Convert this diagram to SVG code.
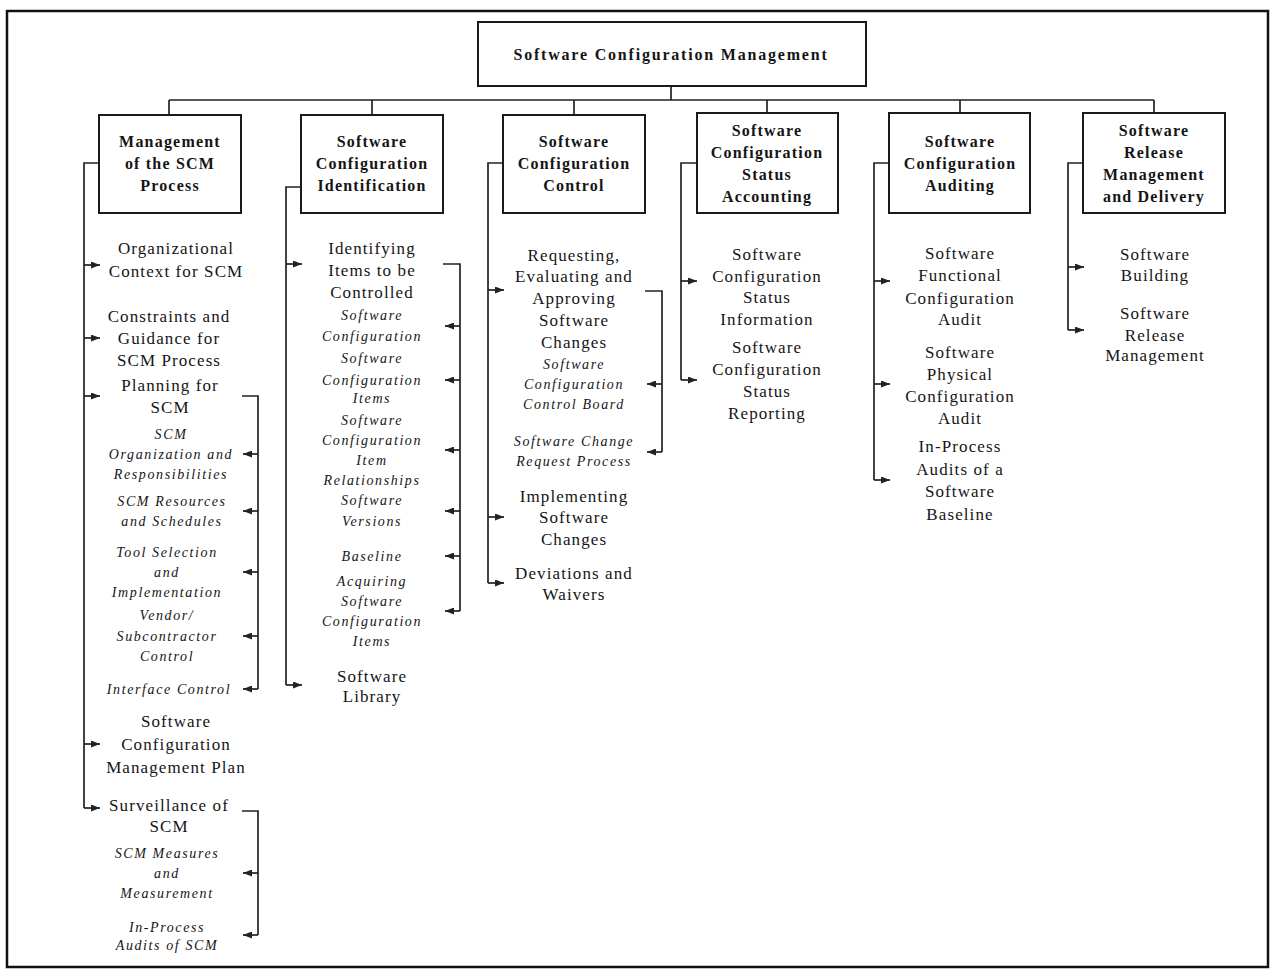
<svg xmlns="http://www.w3.org/2000/svg" width="1274" height="970" viewBox="0 0 1274 970">
<style>
.frame{fill:none;stroke:#111;stroke-width:2.5}
.box{fill:#fff;stroke:#1a1a1a;stroke-width:2}
.ln{fill:none;stroke:#222;stroke-width:1.7}
.ar{fill:none;stroke:#222;stroke-width:1.7;marker-end:url(#ah)}
text{font-family:"Liberation Serif","Times New Roman",serif;fill:#151515;text-anchor:middle}
.h{font-size:16px;font-weight:bold;letter-spacing:1.2px}
.ttl{letter-spacing:1.8px}
.t{font-size:17px;letter-spacing:1.1px}
.i{font-size:14px;font-style:italic;letter-spacing:1.6px}
</style>
<defs>
<marker id="ah" viewBox="0 0 9 7" refX="9" refY="3.5" markerWidth="9" markerHeight="7" markerUnits="userSpaceOnUse" orient="auto">
<path d="M0,0 L9,3.5 L0,7 z" fill="#222"/>
</marker>
</defs>
<rect class="frame" x="7" y="11" width="1261" height="956"/>

<g id="connectors">
<path class="ln" d="M671,86 V100 M169,100 H1154 M169,100 V115 M372,100 V115 M574,100 V115 M767,100 V113 M960,100 V113 M1154,100 V113"/>
<path class="ln" d="M99,163 H84 V808"/>
<path class="ar" d="M84,265 H100"/><path class="ar" d="M84,338 H100"/><path class="ar" d="M84,396 H100"/><path class="ar" d="M84,744 H100"/><path class="ar" d="M84,808 H100"/>
<path class="ln" d="M242,396 H258 V689"/>
<path class="ar" d="M258,454 H243"/><path class="ar" d="M258,511 H243"/><path class="ar" d="M258,572 H243"/><path class="ar" d="M258,636 H243"/><path class="ar" d="M258,689 H243"/>
<path class="ln" d="M242,811 H258 V935"/>
<path class="ar" d="M258,873 H243"/><path class="ar" d="M258,935 H243"/>

<path class="ln" d="M301,187 H286 V685"/>
<path class="ar" d="M286,264 H302"/><path class="ar" d="M286,685 H302"/>
<path class="ln" d="M443,264 H460 V611"/>
<path class="ar" d="M460,326 H445"/><path class="ar" d="M460,380 H445"/><path class="ar" d="M460,450 H445"/><path class="ar" d="M460,511 H445"/><path class="ar" d="M460,556 H445"/><path class="ar" d="M460,611 H445"/>

<path class="ln" d="M503,163 H488 V583"/>
<path class="ar" d="M488,290 H504"/><path class="ar" d="M488,517 H504"/><path class="ar" d="M488,583 H504"/>
<path class="ln" d="M645,291 H662 V452"/>
<path class="ar" d="M662,384 H647"/><path class="ar" d="M662,452 H647"/>

<path class="ln" d="M697,163 H681 V380"/>
<path class="ar" d="M681,281 H697"/><path class="ar" d="M681,380 H697"/>

<path class="ln" d="M889,163 H874 V480"/>
<path class="ar" d="M874,281 H890"/><path class="ar" d="M874,384 H890"/><path class="ar" d="M874,480 H890"/>

<path class="ln" d="M1083,163 H1068 V330"/>
<path class="ar" d="M1068,267 H1084"/><path class="ar" d="M1068,330 H1084"/>
</g>

<g id="root">
<rect class="box" x="478" y="22" width="388" height="64"/>
<text class="h ttl" x="671" y="60">Software Configuration Management</text>
</g>

<g id="n1">
<rect class="box" x="99" y="115" width="142" height="98"/>
<text class="h" x="170" y="147">Management</text>
<text class="h" x="170" y="169">of the SCM</text>
<text class="h" x="170" y="191">Process</text>
</g>
<g id="n2">
<rect class="box" x="301" y="115" width="142" height="98"/>
<text class="h" x="372" y="147">Software</text>
<text class="h" x="372" y="169">Configuration</text>
<text class="h" x="372" y="191">Identification</text>
</g>
<g id="n3">
<rect class="box" x="503" y="115" width="142" height="98"/>
<text class="h" x="574" y="147">Software</text>
<text class="h" x="574" y="169">Configuration</text>
<text class="h" x="574" y="191">Control</text>
</g>
<g id="n4">
<rect class="box" x="697" y="113" width="141" height="100"/>
<text class="h" x="767" y="136">Software</text>
<text class="h" x="767" y="158">Configuration</text>
<text class="h" x="767" y="180">Status</text>
<text class="h" x="767" y="202">Accounting</text>
</g>
<g id="n5">
<rect class="box" x="889" y="113" width="141" height="100"/>
<text class="h" x="960" y="147">Software</text>
<text class="h" x="960" y="169">Configuration</text>
<text class="h" x="960" y="191">Auditing</text>
</g>
<g id="n6">
<rect class="box" x="1083" y="113" width="142" height="100"/>
<text class="h" x="1154" y="136">Software</text>
<text class="h" x="1154" y="158">Release</text>
<text class="h" x="1154" y="180">Management</text>
<text class="h" x="1154" y="202">and Delivery</text>
</g>

<g id="c1">
<text class="t" x="176" y="254">Organizational</text>
<text class="t" x="176" y="277">Context for SCM</text>
<text class="t" x="169" y="322">Constraints and</text>
<text class="t" x="169" y="344">Guidance for</text>
<text class="t" x="169" y="366">SCM Process</text>
<text class="t" x="170" y="391">Planning for</text>
<text class="t" x="170" y="413">SCM</text>
<text class="i" x="171" y="439">SCM</text>
<text class="i" x="171" y="459">Organization and</text>
<text class="i" x="171" y="479">Responsibilities</text>
<text class="i" x="172" y="506">SCM Resources</text>
<text class="i" x="172" y="526">and Schedules</text>
<text class="i" x="167" y="557">Tool Selection</text>
<text class="i" x="167" y="577">and</text>
<text class="i" x="167" y="597">Implementation</text>
<text class="i" x="167" y="620">Vendor/</text>
<text class="i" x="167" y="641">Subcontractor</text>
<text class="i" x="167" y="661">Control</text>
<text class="i" x="169" y="694">Interface Control</text>
<text class="t" x="176" y="727">Software</text>
<text class="t" x="176" y="750">Configuration</text>
<text class="t" x="176" y="773">Management Plan</text>
<text class="t" x="169" y="811">Surveillance of</text>
<text class="t" x="169" y="832">SCM</text>
<text class="i" x="167" y="858">SCM Measures</text>
<text class="i" x="167" y="878">and</text>
<text class="i" x="167" y="898">Measurement</text>
<text class="i" x="167" y="932">In-Process</text>
<text class="i" x="167" y="950">Audits of SCM</text>
</g>

<g id="c2">
<text class="t" x="372" y="254">Identifying</text>
<text class="t" x="372" y="276">Items to be</text>
<text class="t" x="372" y="298">Controlled</text>
<text class="i" x="372" y="320">Software</text>
<text class="i" x="372" y="341">Configuration</text>
<text class="i" x="372" y="363">Software</text>
<text class="i" x="372" y="385">Configuration</text>
<text class="i" x="372" y="403">Items</text>
<text class="i" x="372" y="425">Software</text>
<text class="i" x="372" y="445">Configuration</text>
<text class="i" x="372" y="465">Item</text>
<text class="i" x="372" y="485">Relationships</text>
<text class="i" x="372" y="505">Software</text>
<text class="i" x="372" y="526">Versions</text>
<text class="i" x="372" y="561">Baseline</text>
<text class="i" x="372" y="586">Acquiring</text>
<text class="i" x="372" y="606">Software</text>
<text class="i" x="372" y="626">Configuration</text>
<text class="i" x="372" y="646">Items</text>
<text class="t" x="372" y="682">Software</text>
<text class="t" x="372" y="702">Library</text>
</g>

<g id="c3">
<text class="t" x="574" y="261">Requesting,</text>
<text class="t" x="574" y="282">Evaluating and</text>
<text class="t" x="574" y="304">Approving</text>
<text class="t" x="574" y="326">Software</text>
<text class="t" x="574" y="348">Changes</text>
<text class="i" x="574" y="369">Software</text>
<text class="i" x="574" y="389">Configuration</text>
<text class="i" x="574" y="409">Control Board</text>
<text class="i" x="574" y="446">Software Change</text>
<text class="i" x="574" y="466">Request Process</text>
<text class="t" x="574" y="502">Implementing</text>
<text class="t" x="574" y="523">Software</text>
<text class="t" x="574" y="545">Changes</text>
<text class="t" x="574" y="579">Deviations and</text>
<text class="t" x="574" y="600">Waivers</text>
</g>

<g id="c4">
<text class="t" x="767" y="260">Software</text>
<text class="t" x="767" y="282">Configuration</text>
<text class="t" x="767" y="303">Status</text>
<text class="t" x="767" y="325">Information</text>
<text class="t" x="767" y="353">Software</text>
<text class="t" x="767" y="375">Configuration</text>
<text class="t" x="767" y="397">Status</text>
<text class="t" x="767" y="419">Reporting</text>
</g>

<g id="c5">
<text class="t" x="960" y="259">Software</text>
<text class="t" x="960" y="281">Functional</text>
<text class="t" x="960" y="304">Configuration</text>
<text class="t" x="960" y="325">Audit</text>
<text class="t" x="960" y="358">Software</text>
<text class="t" x="960" y="380">Physical</text>
<text class="t" x="960" y="402">Configuration</text>
<text class="t" x="960" y="424">Audit</text>
<text class="t" x="960" y="452">In-Process</text>
<text class="t" x="960" y="475">Audits of a</text>
<text class="t" x="960" y="497">Software</text>
<text class="t" x="960" y="520">Baseline</text>
</g>

<g id="c6">
<text class="t" x="1155" y="260">Software</text>
<text class="t" x="1155" y="281">Building</text>
<text class="t" x="1155" y="319">Software</text>
<text class="t" x="1155" y="341">Release</text>
<text class="t" x="1155" y="361">Management</text>
</g>
</svg>
